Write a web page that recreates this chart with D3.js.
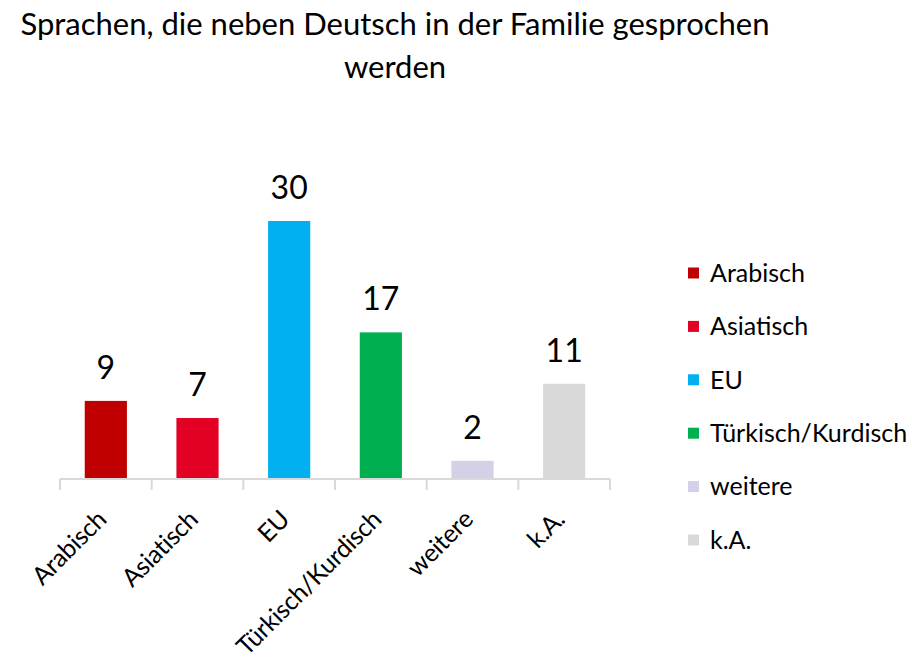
<!DOCTYPE html>
<html>
<head>
<meta charset="utf-8">
<script src="https://cdn.jsdelivr.net/npm/d3@7"></script>
<style>
  body { margin: 0; background: #fff; }
  text { font-family: Lato, 'Noto Sans', sans-serif; fill: #000; }
</style>
</head>
<body>
<script>
const categories = ['Arabisch', 'Asiatisch', 'EU', 'Türkisch/Kurdisch', 'weitere', 'k.A.']
const values = [9, 7, 30, 17, 2, 11]
const colors = ['#C00000', '#E20025', '#00B0F0', '#00B050', '#D4D0E8', '#D9D9D9']
const titleLines = ['Sprachen, die neben Deutsch in der Familie gesprochen', 'werden']

function drawChart() {
  const svgWidth = 912, svgHeight = 665
  const plot = {left: 60, right: 610, top: 221, bottom: 479}

  const svg = d3.select('body').append('svg')
    .attr('width', svgWidth)
    .attr('height', svgHeight)

  // title
  svg.append('g').selectAll('text')
    .data(titleLines)
    .enter().append('text')
    .attr('x', 395)
    .attr('y', function(d, i) { return 35 + i * 43 })
    .attr('text-anchor', 'middle')
    .style('font-size', '31px')
    .text(function(d) { return d })

  const x = d3.scaleBand()
    .domain(categories)
    .range([plot.left, plot.right])
    .paddingInner(0.54)
    .paddingOuter(0.27)

  const y = d3.scaleLinear()
    .domain([0, 30])
    .range([plot.bottom - 1, plot.top])

  const data = categories.map(function(c, i) {
    return {cat: c, value: values[i], color: colors[i]}
  })

  // bars
  svg.append('g').selectAll('rect')
    .data(data)
    .enter().append('rect')
    .attr('x', function(d) { return x(d.cat) })
    .attr('y', function(d) { return y(d.value) })
    .attr('width', x.bandwidth())
    .attr('height', function(d) { return y(0) - y(d.value) })
    .attr('fill', function(d) { return d.color })

  // value labels
  svg.append('g').selectAll('text')
    .data(data)
    .enter().append('text')
    .attr('x', function(d) { return x(d.cat) + x.bandwidth() / 2 })
    .attr('y', function(d) { return y(d.value) - 22 })
    .attr('text-anchor', 'middle')
    .style('font-size', '32px')
    .text(function(d) { return d.value })

  // x axis, ticks sit between the categories
  const step = x.step()
  const axis = svg.append('g').attr('class', 'axis')
  axis.append('line')
    .attr('x1', plot.left).attr('x2', plot.right)
    .attr('y1', plot.bottom).attr('y2', plot.bottom)
    .attr('stroke', '#D9D9D9').attr('stroke-width', 2)
  axis.selectAll('.tick')
    .data(d3.range(categories.length + 1))
    .enter().append('line')
    .attr('class', 'tick')
    .attr('x1', function(i) { return plot.left + i * step })
    .attr('x2', function(i) { return plot.left + i * step })
    .attr('y1', plot.bottom)
    .attr('y2', plot.bottom + 11)
    .attr('stroke', '#D9D9D9').attr('stroke-width', 2)

  axis.selectAll('.label')
    .data(categories)
    .enter().append('text')
    .attr('class', 'label')
    .attr('text-anchor', 'end')
    .attr('transform', function(d) {
      return 'translate(' + (x(d) + x.bandwidth() / 2 + 2) + ',' + (plot.bottom + 42) + ') rotate(-45)'
    })
    .style('font-size', '25px')
    .style('letter-spacing', '-0.3px')
    .text(function(d) { return d })

  // legend
  const legend = svg.append('g')
    .attr('transform', 'translate(688,273)')
  const item = legend.selectAll('g')
    .data(data)
    .enter().append('g')
    .attr('transform', function(d, i) { return 'translate(0,' + (i * 53.4) + ')' })
  item.append('rect')
    .attr('x', 0).attr('y', -5.5)
    .attr('width', 11).attr('height', 11)
    .attr('fill', function(d) { return d.color })
  item.append('text')
    .attr('x', 22)
    .attr('y', 0)
    .attr('dy', '0.35em')
    .style('font-size', '25px')
    .text(function(d) { return d.cat })
}

drawChart()
</script>
</body>
</html>
